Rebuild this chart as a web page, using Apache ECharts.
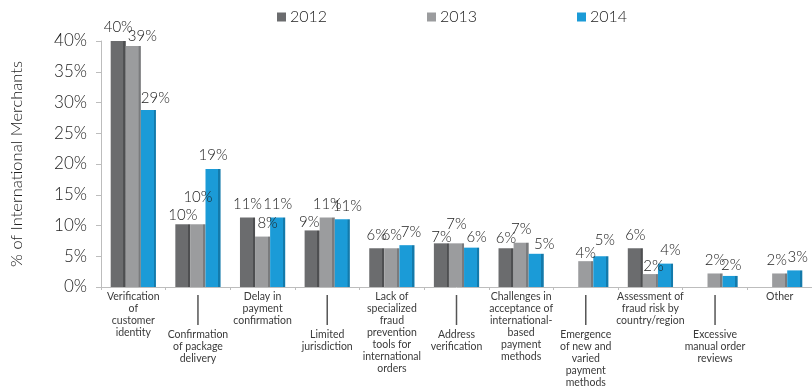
<!DOCTYPE html>
<html>
<head>
<meta charset="utf-8">
<script src="https://cdn.jsdelivr.net/npm/echarts@6/dist/echarts.min.js"></script>
<style>
  html, body { margin: 0; padding: 0; background: #ffffff; }
  #chart { width: 812px; height: 389px; }
</style>
</head>
<body>
<div id="chart"></div>
<script>
// Fraud-management challenges reported by international merchants
const categories = [
  'Verification\nof\ncustomer\nidentity',
  'Confirmation\nof package\ndelivery',
  'Delay in\npayment\nconfirmation',
  'Limited\njurisdiction',
  'Lack of\nspecialized\nfraud\nprevention\ntools for\ninternational\norders',
  'Address\nverification',
  'Challenges in\nacceptance of\ninternational-\nbased\npayment\nmethods',
  'Emergence\nof new and\nvaried\npayment\nmethods',
  'Assessment of\nfraud risk by\ncountry/region',
  'Excessive\nmanual order\nreviews',
  'Other'
];
const seriesNames = ['2012', '2013', '2014'];
const values2012 = [40.0, 10.2, 11.3, 9.2, 6.3, 7.1, 6.3, null, 6.3, null, null];
const values2013 = [39.2, 10.2, 8.2, 11.3, 6.3, 7.1, 7.2, 4.2, 2.1, 2.2, 2.2];
const values2014 = [28.8, 19.2, 11.3, 11.0, 6.8, 6.4, 5.4, 5.0, 3.8, 1.8, 2.7];
const yTicks = { min: 0, max: 40, interval: 5 };

// face colour and darker side colour for each year
const palette = [
  { face: '#6b6c6e', side: '#4e4f51' },
  { face: '#9b9c9e', side: '#7a7b7d' },
  { face: '#1b9bd7', side: '#137aab' }
];

// small label nudges [series][category] -> [dx, dy] to keep value labels apart
const labelNudge = {
  '1,0': [9, 4], '2,0': [7, 2],
  '1,1': [0, -14], '0,1': [0, 4],
  '1,2': [5, 0],
  '0,3': [-3, 5], '2,3': [5, 0],
  '2,4': [4, 0],
  '0,5': [0, 7], '1,5': [0, -6], '2,5': [5, 3],
  '0,6': [0, 3], '2,6': [8, 4],
  '1,7': [0, 5], '2,7': [4, -3],
  '1,8': [3, 6], '2,8': [5, 0],
  '2,9': [1, 3],
  '1,10': [-3, 0], '2,10': [3, 0]
};

const FONT = 'Lato, "Noto Sans", sans-serif';

function sideGradient(c) {
  return new echarts.graphic.LinearGradient(0, 0, 1, 0, [
    { offset: 0, color: c.face },
    { offset: 0.84, color: c.face },
    { offset: 0.85, color: c.side },
    { offset: 1, color: c.side }
  ]);
}

function buildSeries(name, values, si) {
  return {
    name: name,
    type: 'bar',
    barGap: '0%',
    barCategoryGap: '30%',
    itemStyle: { color: sideGradient(palette[si]) },
    label: {
      show: true,
      position: 'top',
      distance: 6,
      fontFamily: FONT,
      fontWeight: 300,
      fontSize: 15,
      color: '#222222',
      formatter: p => Math.round(p.value) + '%'
    },
    data: values.map((v, ci) => {
      const n = labelNudge[si + ',' + ci];
      if (v === null) return null;
      return n ? { value: v, label: { offset: n } } : v;
    })
  };
}

const chart = echarts.init(document.getElementById('chart'), null, { renderer: 'canvas' });

const legendLefts = [277, 427, 577];

chart.setOption({
  animation: false,
  backgroundColor: '#ffffff',
  grid: { left: 97, right: -3, top: 41, bottom: 101, containLabel: false },
  legend: seriesNames.map((n, i) => ({
    data: [{ name: n, itemStyle: { color: palette[i].face } }],
    left: legendLefts[i],
    top: 9,
    padding: 0,
    icon: 'rect',
    itemWidth: 9,
    itemHeight: 9,
    itemGap: 0,
    textStyle: { fontFamily: FONT, fontWeight: 300, fontSize: 16, color: '#222222', padding: [0, 0, 0, -1] },
    selectedMode: false
  })),
  xAxis: {
    type: 'category',
    data: categories,
    axisLine: { lineStyle: { color: '#bdbdbd', width: 1 } },
    axisTick: { show: true, length: 3, lineStyle: { color: '#bdbdbd' } },
    axisLabel: {
      interval: 0,
      margin: 4,
      fontFamily: FONT,
      fontWeight: 400,
      fontSize: 10.5,
      lineHeight: 12,
      color: '#3a3a3a',
      align: 'center',
      formatter: (val, idx) => idx % 2 === 1 ? '{ln| }\n' + val : val,
      rich: {
        ln: { width: 1.5, height: 30, lineHeight: 38, backgroundColor: '#555555' }
      }
    }
  },
  yAxis: {
    type: 'value',
    min: yTicks.min,
    max: yTicks.max,
    interval: yTicks.interval,
    name: '% of International Merchants',
    nameLocation: 'middle',
    nameGap: 76,
    nameRotate: 90,
    nameTextStyle: { fontFamily: FONT, fontWeight: 300, fontSize: 16.5, color: '#222222' },
    axisLine: { show: true, lineStyle: { color: '#bdbdbd' } },
    axisTick: { show: true, length: 5, lineStyle: { color: '#bdbdbd' } },
    splitLine: { show: false },
    axisLabel: {
      margin: 14,
      fontFamily: FONT,
      fontWeight: 300,
      fontSize: 17,
      color: '#222222',
      formatter: v => v + '%'
    }
  },
  series: [
    buildSeries(seriesNames[0], values2012, 0),
    buildSeries(seriesNames[1], values2013, 1),
    buildSeries(seriesNames[2], values2014, 2)
  ]
});
</script>
</body>
</html>
